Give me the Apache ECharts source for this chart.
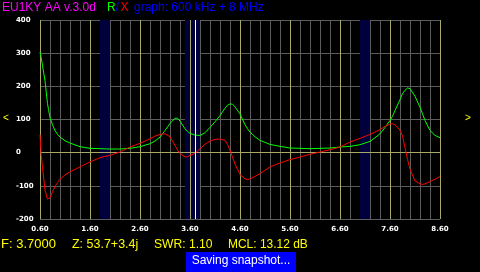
<!DOCTYPE html>
<html><head><meta charset="utf-8">
<script src="https://cdn.jsdelivr.net/npm/echarts@6/dist/echarts.min.js"></script>
<style>html,body{margin:0;padding:0;background:#000;}#c{width:480px;height:272px;}</style>
</head><body><div id="c"></div>
<script>
// Frequency in MHz
const freqMHz = [0.6,0.62,0.65,0.7,0.75,0.77,0.8,0.85,0.9,0.95,1.0,1.1,1.2,1.4,1.6,1.8,2.0,2.2,2.4,2.6,2.8,2.9,3.0,3.1,3.2,3.3,3.35,3.4,3.5,3.55,3.6,3.7,3.8,3.9,4.0,4.1,4.2,4.3,4.35,4.4,4.45,4.5,4.6,4.7,4.75,4.8,4.9,5.0,5.2,5.4,5.6,5.8,6.0,6.2,6.4,6.6,6.8,7.0,7.2,7.3,7.4,7.5,7.6,7.65,7.7,7.8,7.85,7.9,7.95,8.0,8.1,8.2,8.25,8.3,8.4,8.5,8.6];
// R (ohm)
const rValues = [303,290,262,217,148,130,106,84,67,55,47,36,29,18,13,12,11,11,13,18,27,35,47,67,88,104,104,95,72,64,58,53,52,60,76,93,112,134,143,147,146,138,117,84,72,62,48,37,25,19,14,13,12,13,14,17,19,24,34,45,57,76,97,110,127,160,178,188,195,193,170,137,117,97,67,52,45];
// X (ohm)
const xValues = [55,0,-45,-113,-140,-143,-136,-118,-102,-90,-80,-67,-58,-43,-28,-15,-8,2,17,28,42,50,55,57,48,22,8,-3,-13,-12,-8,-2,12,25,35,40,41,37,25,7,-14,-34,-66,-79,-81,-79,-72,-63,-43,-31,-21,-13,-5,2,9,17,32,43,55,62,70,79,86,87,84,68,50,15,-20,-50,-85,-94,-96,-94,-87,-80,-72];
// Ham bands (MHz)
const hamBands = [[1.8,2.0],[3.5,3.8],[7.0,7.2]];
const markerFreq = 3.7;
// Axis ranges
const fMin = 0.6, fMax = 8.6, fMinorStep = 0.2, fMajorStep = 1;
const yMin = -200, yMax = 400, yStep = 100;

const chart = echarts.init(document.getElementById('c'), null, {renderer:'canvas'});
const YEL = '#a8a868', GRY = '#5c5c5c';
const lblFont = {color:'#fff', fontSize:7, fontWeight:'bold', fontFamily:'"DejaVu Sans"'};
const txt = (t, x, y, fill, size, sx) => ({type:'text', x:x, y:y, scaleX: sx || 1, style:{text:t, fill:fill, font: size + 'px "Liberation Sans"', align:'left', verticalAlign:'middle'}});
// colour list for the overlay y axis: only the zero line is yellow
const yLineColors = [];
for (let v = yMin; v <= yMax; v += yStep) yLineColors.push(v === 0 ? YEL : 'rgba(0,0,0,0)');

chart.setOption({
  backgroundColor:'#000',
  animation:false,
  grid:{left:40, top:20, width:400, height:199, containLabel:false},
  xAxis:[
    {type:'value', min:fMin, max:fMax, interval:fMinorStep, z:0,
      axisLine:{show:false}, axisTick:{show:false},
      splitLine:{show:true, lineStyle:{color:GRY, width:1}},
      axisLabel:Object.assign({margin:7, showMinLabel:true, showMaxLabel:true,
        formatter:v => (Math.round(v*10) % 10 === 6) ? v.toFixed(2) : ''}, lblFont)},
    // overlay axis (offset from fMin) carrying the yellow 1 MHz grid lines above the bands
    {type:'value', min:0, max:fMax - fMin, interval:fMajorStep, z:2.5, position:'bottom',
      axisLine:{show:false}, axisTick:{show:false}, axisLabel:{show:false},
      splitLine:{show:true, lineStyle:{color:YEL, width:1}}}
  ],
  yAxis:[
    {type:'value', min:yMin, max:yMax, interval:yStep, z:0,
      axisLine:{show:false}, axisTick:{show:false},
      splitLine:{show:true, lineStyle:{color:GRY, width:1}},
      axisLabel:Object.assign({margin:24, align:'left'}, lblFont)},
    {type:'value', min:yMin, max:yMax, interval:yStep, z:2.5, position:'left',
      axisLine:{show:false}, axisTick:{show:false}, axisLabel:{show:false},
      splitLine:{show:true, lineStyle:{color:yLineColors, width:1}}}
  ],
  series:[
    {type:'line', data:[], z:1, silent:true,
      markArea:{silent:true, itemStyle:{color:'#00003c', opacity:1},
        data: hamBands.map(b => [{xAxis:b[0]},{xAxis:b[1]}])}},
    {type:'line', name:'R', z:3, showSymbol:false, data:freqMHz.map((f,i)=>[f,rValues[i]]),
      lineStyle:{color:'#00ff00', width:1}, itemStyle:{color:'#00ff00'}},
    {type:'line', name:'X', z:3, showSymbol:false, data:freqMHz.map((f,i)=>[f,xValues[i]]),
      lineStyle:{color:'#ff0000', width:1}, itemStyle:{color:'#ff0000'}},
    {type:'line', data:[], z:4, silent:true,
      markLine:{silent:true, symbol:'none', label:{show:false}, lineStyle:{color:'#ffffff', width:1, type:'solid'},
        data:[{xAxis:markerFreq}]}}
  ],
  graphic:[
    txt('EU1KY AA v.3.0d', 2, 8, '#ff00ff', 12),
    txt('R', 107, 8, '#00ff00', 12),
    txt('/', 115.5, 8, '#0000ff', 12),
    txt('X', 120.5, 8, '#ff0000', 12),
    txt('graph: 600 kHz + 8 MHz', 134, 8, '#0000ff', 12),
    txt('<', 3, 118, '#ffff00', 10),
    txt('>', 465, 118, '#ffff00', 10),
    txt('F: 3.7000', 1, 244, '#ffff00', 13),
    txt('Z: 53.7+3.4j', 72, 244, '#ffff00', 13, 0.96),
    txt('SWR: 1.10', 154, 244, '#ffff00', 13, 0.93),
    txt('MCL: 13.12 dB', 228, 244, '#ffff00', 13, 0.92),
    {type:'rect', shape:{x:186, y:252, width:110, height:20}, style:{fill:'#0000ff'}},
    {type:'text', x:241, y:261, style:{text:'Saving snapshot...', fill:'#ffffff', font:'12px "Liberation Sans"', align:'center', verticalAlign:'middle'}}
  ]
});
</script></body></html>
